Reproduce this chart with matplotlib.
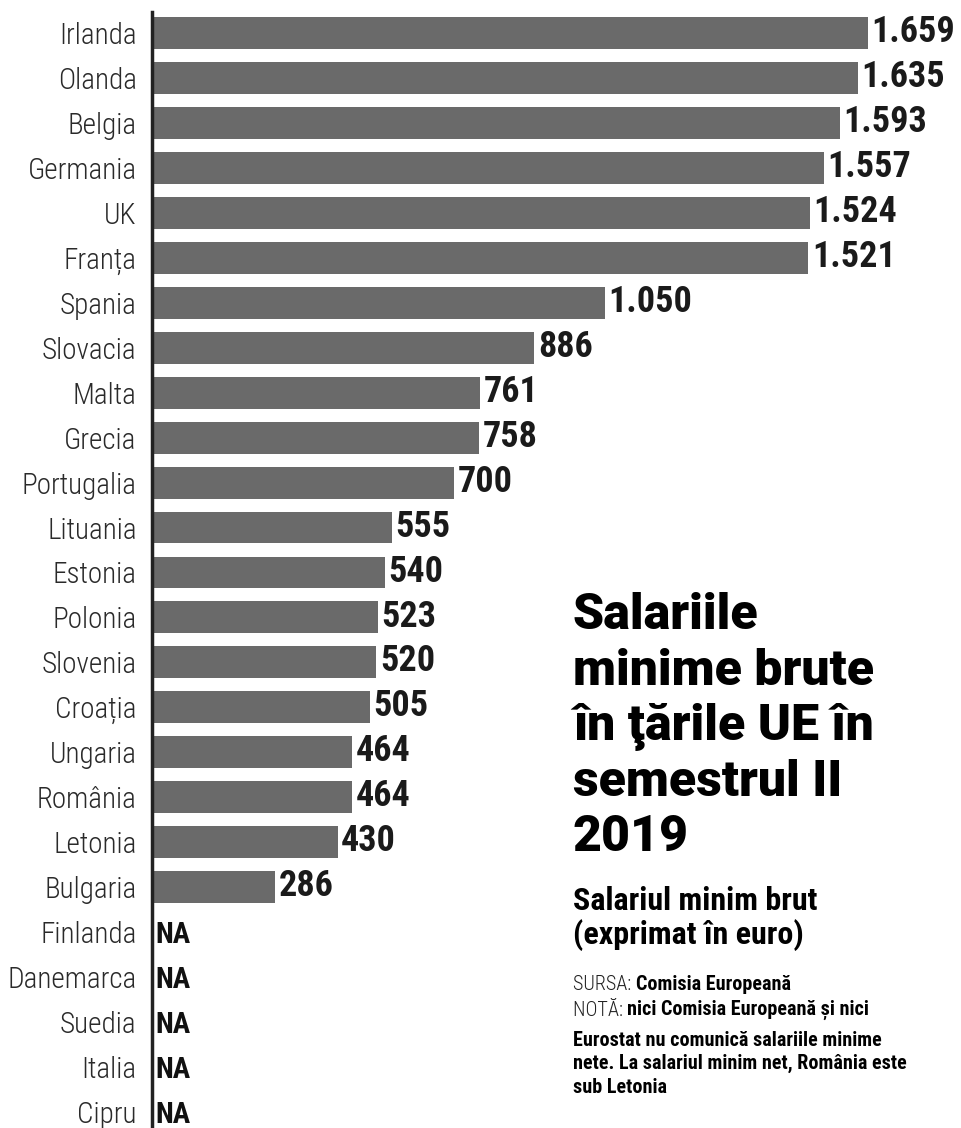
import matplotlib
matplotlib.use("Agg")
import matplotlib.pyplot as plt
from matplotlib import font_manager

# data (euro, semestrul II 2019)
countries = ["Irlanda", "Olanda", "Belgia", "Germania", "UK", "Franța", "Spania",
             "Slovacia", "Malta", "Grecia", "Portugalia", "Lituania", "Estonia",
             "Polonia", "Slovenia", "Croația", "Ungaria", "România", "Letonia",
             "Bulgaria", "Finlanda", "Danemarca", "Suedia", "Italia", "Cipru"]
wages = [1659, 1635, 1593, 1557, 1524, 1521, 1050, 886, 761, 758, 700, 555, 540,
         523, 520, 505, 464, 464, 430, 286, None, None, None, None, None]

title = "Salariile\nminime brute\nîn ţările UE în\nsemestrul II\n2019"
subtitle = "Salariul minim brut\n(exprimat în euro)"
source = "Comisia Europeană"
note_first = "nici Comisia Europeană și nici"
note_rest = ("Eurostat nu comunică salariile minime\n"
             "nete. La salariul minim net, România este\nsub Letonia")

BAR_COLOR = "#6a6a6a"


def pick(candidates):
    """first installed family from candidates, DejaVu Sans as fallback"""
    have = {f.name for f in font_manager.fontManager.ttflist}
    for c in candidates:
        if c in have:
            return [c, "DejaVu Sans"]
    return ["DejaVu Sans"]


NARROW = pick(["Roboto Condensed", "PT Sans Narrow", "Fira Sans Condensed",
               "Archivo Narrow", "IBM Plex Sans Condensed", "Barlow Semi Condensed",
               "Liberation Sans Narrow", "Saira SemiCondensed"])
HEAVY = pick(["Roboto", "Arimo", "Liberation Sans"])


def fmt(v):
    return f"{v:,}".replace(",", ".")


fig = plt.figure(figsize=(9.62, 11.28), dpi=100)
ax = fig.add_axes([152 / 962, 0, 810 / 962, 1116 / 1128])

ypos = list(range(len(countries)))
for y, v in zip(ypos, wages):
    if v is None:
        ax.text(8, y + 0.06, "NA", ha="left", va="center", fontsize=21,
                fontweight="bold", family=NARROW, color="#111111")
        continue
    ax.barh(y, v, height=0.71, color=BAR_COLOR)
    ax.text(v + 8, y - 0.02, fmt(v), ha="left", va="center", fontsize=26,
            fontweight="bold", family=NARROW, color="#1a1a1a")

ax.set_xlim(0, 810 / 0.4316)
ax.set_ylim(24.36, -0.47)
ax.set_yticks(ypos)
ax.set_yticklabels(countries, family=NARROW, fontsize=21, fontweight="light",
                   color="#2a2a2a")
ax.tick_params(axis="y", length=0, pad=11)
ax.set_xticks([])
for side in ["top", "right", "bottom"]:
    ax.spines[side].set_visible(False)
ax.spines["left"].set_linewidth(2.5)
ax.spines["left"].set_color("#222222")

# title block on the right (multi-line texts are anchored on their last baseline)
x0 = 573 / 962
fig.text(x0, 1 - 851 / 1128, title, ha="left", va="baseline", fontsize=36,
         fontweight="black", family=HEAVY, color="black", linespacing=1.22)
fig.text(x0, 1 - 944 / 1128, subtitle, ha="left", va="baseline", fontsize=23,
         fontweight="bold", family=NARROW, color="black", linespacing=1.12)

fs = 14.5
t1 = fig.text(x0, 1 - 990 / 1128, "SURSA: ", ha="left", va="baseline",
              fontsize=fs, family=NARROW, fontweight="light", color="#222222")
ax.annotate(source, xy=(1, 0), xycoords=t1, ha="left", va="bottom",
            fontsize=fs, fontweight="bold", family=NARROW, color="black",
            annotation_clip=False)
t2 = fig.text(x0, 1 - 1016 / 1128, "NOTĂ: ", ha="left", va="baseline",
              fontsize=fs, family=NARROW, fontweight="light", color="#222222")
ax.annotate(note_first, xy=(1, 0), xycoords=t2, ha="left", va="bottom",
            fontsize=fs, fontweight="bold", family=NARROW, color="black",
            annotation_clip=False)
fig.text(x0, 1 - 1093 / 1128, note_rest, ha="left", va="baseline",
         fontsize=fs, fontweight="bold", family=NARROW, color="black",
         linespacing=1.31)

fig.savefig("out.png", dpi=100)
